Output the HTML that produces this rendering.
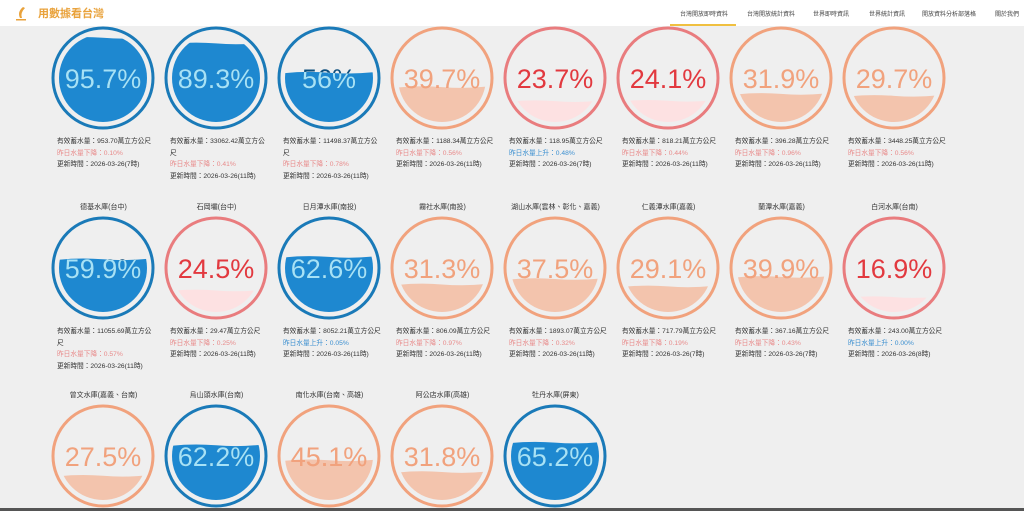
<!DOCTYPE html>
<html><head><meta charset="utf-8">
<style>
body{margin:0;width:1024px;height:511px;overflow:hidden;background:#efefef;font-family:"Liberation Sans","Noto Sans CJK TC",sans-serif;position:relative}
.hdr{position:absolute;left:0;top:0;width:1024px;height:26px;background:#fff}
.title{position:absolute;left:38px;top:5px;font-size:11px;color:#e9a23b;font-weight:bold}
.nav{position:absolute;top:9px;font-size:6px;color:#444;white-space:nowrap}
.g{position:absolute;width:113px}
.nm{position:absolute;width:113px;text-align:center;font-size:7px;color:#333}
.info{position:absolute;font-size:6.7px;line-height:11.5px;color:#333;width:100px}
.dn{color:#e88a8a}.up{color:#3b8fd0}
</style></head><body>
<div class="hdr"></div>
<svg style="position:absolute;left:14px;top:6px" width="14" height="16"><path d="M9 1 Q3 6 6 12 L8 12 Q6 7 11 2Z" fill="#e9a23b"/><rect x="2" y="13" width="10" height="1.5" fill="#e9a23b"/></svg>
<div class="title">用數據看台灣</div>
<div class="nav" style="left:680px">台灣開放即時資料</div>
<div style="position:absolute;left:670px;top:24px;width:66px;height:1.5px;background:#f0c040"></div>
<div class="nav" style="left:747px">台灣開放統計資料</div>
<div class="nav" style="left:813px">世界即時資訊</div>
<div class="nav" style="left:869px">世界統計資訊</div>
<div class="nav" style="left:922px">開放資料分析部落格</div>
<div class="nav" style="left:995px">關於我們</div>
<div id="root"></div>
<script>
var C={b:{s:'#1a7ab8',f:'#1e88d0',t:'#0e4f7d',ti:'#a6e2f7'},o:{s:'#f1a27d',f:'#f3c4ad',t:'#f1a27d',ti:'#f1a27d'},r:{s:'#e97c7e',f:'#fde1e2',t:'#e2393f',ti:'#e2393f'}};
var D=[
['','95.7','b','953.70',0,'0.10%','7'],
['','89.3','b','33062.42',0,'0.41%','11'],
['','56','b','11498.37',0,'0.78%','11'],
['','39.7','o','1188.34',0,'0.56%','11'],
['','23.7','r','118.95',1,'0.48%','7'],
['','24.1','r','818.21',0,'0.44%','11'],
['','31.9','o','396.28',0,'0.96%','11'],
['','29.7','o','3448.25',0,'0.56%','11'],
['德基水庫(台中)','59.9','b','11055.69',0,'0.57%','11'],
['石岡壩(台中)','24.5','r','29.47',0,'0.25%','11'],
['日月潭水庫(南投)','62.6','b','8052.21',1,'0.05%','11'],
['霧社水庫(南投)','31.3','o','806.09',0,'0.97%','11'],
['湖山水庫(雲林、彰化、嘉義)','37.5','o','1893.07',0,'0.32%','11'],
['仁義潭水庫(嘉義)','29.1','o','717.79',0,'0.19%','7'],
['蘭潭水庫(嘉義)','39.9','o','367.16',0,'0.43%','7'],
['白河水庫(台南)','16.9','r','243.00',1,'0.00%','8'],
['曾文水庫(嘉義、台南)','27.5','o','',0,'',''],
['烏山頭水庫(台南)','62.2','b','',0,'',''],
['南化水庫(台南、高雄)','45.1','o','',0,'',''],
['阿公店水庫(高雄)','31.8','o','',0,'',''],
['牡丹水庫(屏東)','65.2','b','',0,'','']];
var h='';
D.forEach(function(d,i){
 var row=Math.floor(i/8),col=i%8;
 var cx=103+col*113, cy=[78,268,456][row];
 var c=C[d[2]],p=parseFloat(d[1])/100,R=44;
 var wy=cy+R-2*R*p;
 var x0=cx-R;
 var wave='M'+(x0-5)+' '+(wy+1)+' Q'+(cx-25)+' '+(wy-2)+' '+cx+' '+(wy)+' T'+(cx+R+5)+' '+(wy-1)+' L'+(cx+R+5)+' '+(cy+R+5)+' L'+(x0-5)+' '+(cy+R+5)+'Z';
 var id='c'+i;
 var tx='<text x="'+cx+'" y="'+(cy+10)+'" text-anchor="middle" font-size="27" fill="FILL" font-family="Liberation Sans,sans-serif">'+d[1]+'%</text>';
 h+='<svg width="1024" height="511" style="position:absolute;left:0;top:0"><defs><clipPath id="'+id+'"><circle cx="'+cx+'" cy="'+cy+'" r="'+R+'"/></clipPath><clipPath id="w'+id+'"><path d="'+wave+'"/></clipPath></defs>'+
 '<circle cx="'+cx+'" cy="'+cy+'" r="50" fill="none" stroke="'+c.s+'" stroke-width="3"/>'+
 '<g clip-path="url(#'+id+')"><path d="'+wave+'" fill="'+c.f+'"/></g>'+
 tx.replace('FILL',c.t)+
 '<g clip-path="url(#w'+id+')">'+tx.replace('FILL',c.ti)+'</g></svg>';
 if(d[0])h+='<div class="nm" style="left:'+(cx-56)+'px;top:'+(cy-66)+'px">'+d[0]+'</div>';
 if(d[3]){
  h+='<div class="info" style="left:'+(cx-46)+'px;top:'+(cy+58)+'px">有效蓄水量：'+d[3]+'萬立方公尺<br><span class="'+(d[4]?'up':'dn')+'">昨日水量'+(d[4]?'上升':'下降')+'：'+d[5]+'</span><br>更新時間：2026-03-26('+d[6]+'時)</div>';
 }
});
document.getElementById('root').innerHTML=h;
</script>
<div style="position:absolute;left:0;top:508px;width:1024px;height:3px;background:#555"></div>
</body></html>
